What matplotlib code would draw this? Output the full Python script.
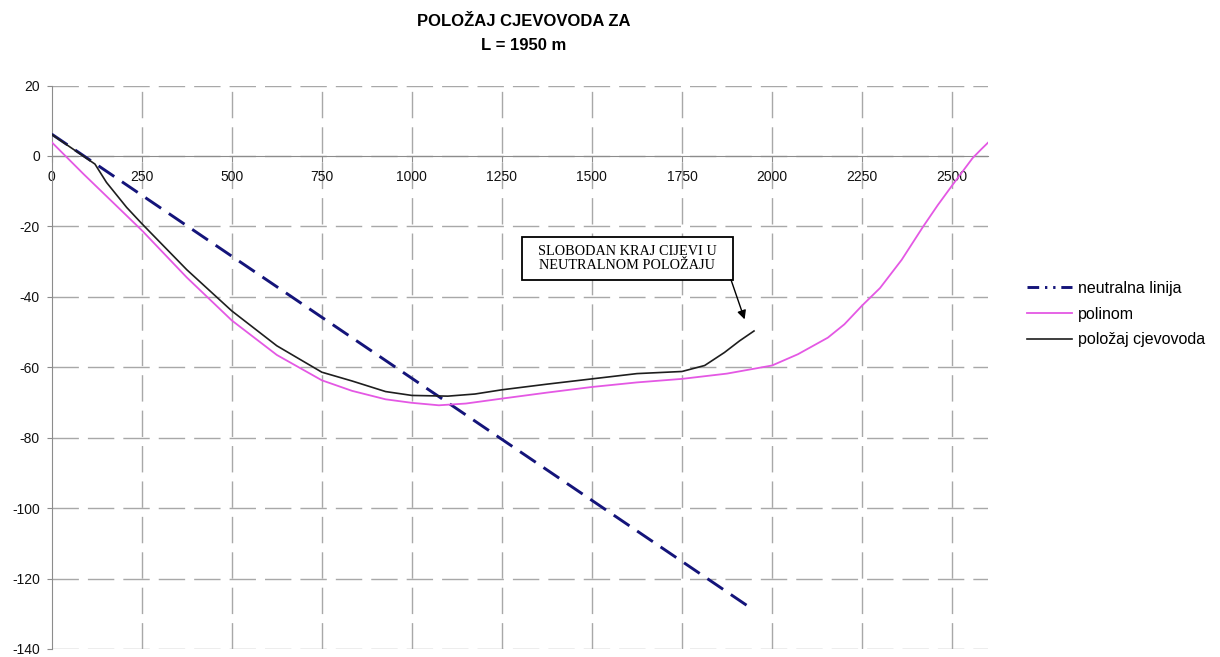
"""Polozaj cjevovoda za L = 1950 m - recreated chart."""

import matplotlib
matplotlib.use('Agg')
import matplotlib.pyplot as plt
from matplotlib.lines import Line2D
from matplotlib.patches import Rectangle

#-----------------------------------------------------------------------------
# Data
#-----------------------------------------------------------------------------

neutral_x = [0, 1950]
neutral_y = [6.2, -129.0]

polinom_x = [0, 88, 250, 375, 500, 625, 750, 834, 927, 1000, 1075, 1150,
             1250, 1375, 1500, 1625, 1750, 1875, 2000, 2072, 2155, 2201,
             2250, 2300, 2360, 2420, 2460, 2500, 2530, 2557, 2580, 2600]
polinom_y = [3.9, -5.1, -21.1, -34.5, -46.7, -56.5, -63.7, -66.7, -69.1,
             -70.1, -70.8, -70.3, -68.9, -67.2, -65.6, -64.3, -63.3, -61.8,
             -59.5, -56.3, -51.6, -47.8, -42.5, -37.5, -29.5, -20.0, -14.0,
             -8.4, -4.3, -0.6, 1.8, 3.8]

cjev_x = [0, 120, 152, 208, 250, 375, 500, 625, 750, 834, 927, 1000, 1100,
          1175, 1250, 1375, 1500, 1625, 1750, 1813, 1868, 1910, 1950]
cjev_y = [6.1, -2.3, -7.5, -14.6, -19.2, -32.3, -44.0, -53.9, -61.4, -63.9,
          -66.9, -68.0, -68.2, -67.6, -66.4, -64.8, -63.3, -61.8, -61.2,
          -59.5, -55.8, -52.5, -49.7]

x_ticks = list(range(0, 2501, 250))
y_ticks = list(range(-140, 21, 20))

labels = ['neutralna linija', 'polinom', 'položaj cjevovoda']

#-----------------------------------------------------------------------------
# Plot
#-----------------------------------------------------------------------------

plt.rcParams['font.family'] = ['Liberation Sans', 'DejaVu Sans']
plt.rcParams['axes.unicode_minus'] = False

fig = plt.figure(figsize=(12.2, 6.57), dpi=100)
ax = fig.add_axes([0.0424, 0.0122, 0.7675, 0.8576])

grid_kw = dict(color='#a8a8a8', lw=1.0, dashes=(19, 6.5))
for yv in y_ticks:
    ax.axhline(yv, zorder=0, **grid_kw)
for xv in x_ticks[1:]:
    ax.axvline(xv, zorder=0, **grid_kw)

ax.plot(neutral_x, neutral_y, color='#14147a', lw=2.1,
        dashes=(6.5, 3.2), zorder=3)
ax.plot(polinom_x, polinom_y, color='#e458e4', lw=1.3, zorder=3)
ax.plot(cjev_x, cjev_y, color='#1e1e1e', lw=1.2, zorder=4)

ax.set_xlim(0, 2600)
ax.set_ylim(-140, 20)
ax.set_xticks(x_ticks)
ax.set_yticks(y_ticks)

for s in ['top', 'right']:
    ax.spines[s].set_visible(False)
ax.spines['bottom'].set_position(('data', 0))
ax.spines['bottom'].set_color('#8c8c8c')
ax.spines['left'].set_color('#8c8c8c')
ax.tick_params(axis='both', labelsize=10, colors='#8c8c8c',
               labelcolor='#111111', direction='out')
ax.tick_params(axis='y', length=3.6, pad=5)
ax.tick_params(axis='x', length=4, pad=6)

# annotation box with arrow
ax.add_patch(Rectangle((1306, -35.1), 586, 12.1, facecolor='white',
                       edgecolor='black', lw=1.3, zorder=5))
ax.text(1598, -29.1, 'SLOBODAN KRAJ CIJEVI U\nNEUTRALNOM POLOŽAJU',
        family=['Liberation Serif', 'DejaVu Serif'], fontsize=10.3,
        ha='center', va='center', linespacing=1.1, zorder=6)
ax.annotate('', xy=(1924, -46.4), xytext=(1886, -35.1),
            arrowprops=dict(arrowstyle='-|>', color='black', lw=1.0,
                            mutation_scale=13, shrinkA=0, shrinkB=0),
            zorder=6)

fig.text(0.429, 0.967, 'POLOŽAJ CJEVOVODA ZA', ha='center', va='center',
         fontsize=12, fontweight='bold')
fig.text(0.429, 0.930, 'L = 1950 m', ha='center', va='center',
         fontsize=12, fontweight='bold')

handles = [Line2D([], [], color='#14147a', lw=2.1,
                  dashes=(4, 2, 0.8, 2, 0.8, 2)),
           Line2D([], [], color='#e458e4', lw=1.3),
           Line2D([], [], color='#1e1e1e', lw=1.2)]
fig.legend(handles, labels, loc='center left',
           bbox_to_anchor=(1027 / 1220, 1 - 314 / 657), frameon=False,
           fontsize=11.5, handlelength=2.8, handletextpad=0.4,
           labelspacing=0.68, borderpad=0, borderaxespad=0)

fig.savefig('out.png', dpi=100)
